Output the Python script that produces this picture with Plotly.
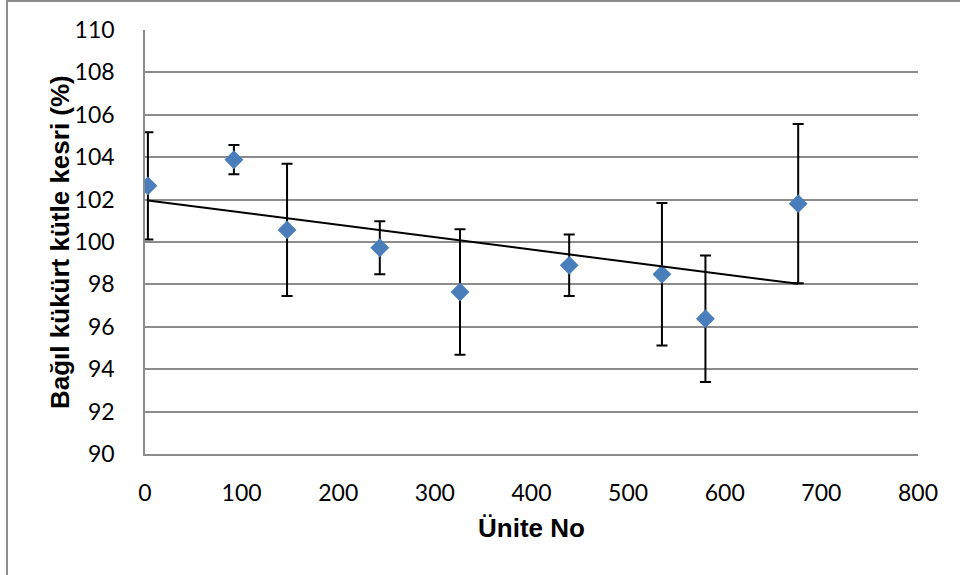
import numpy as np
import plotly.graph_objects as go

# Data
unit_no = [3, 92, 147, 243, 326, 439, 535, 580, 676]
rel_sulfur = [102.65, 103.88, 100.57, 99.73, 97.64, 98.90, 98.48, 96.38, 101.81]
err = [2.53, 0.69, 3.12, 1.25, 2.96, 1.45, 3.36, 2.98, 3.76]
x_ticks = [0, 100, 200, 300, 400, 500, 600, 700, 800]
y_ticks = [90, 92, 94, 96, 98, 100, 102, 104, 106, 108, 110]

# Linear trendline (as in the original chart)
slope, intercept = np.polyfit(unit_no, rel_sulfur, 1)
trend_x = [min(unit_no), max(unit_no)]
trend_y = [slope * v + intercept for v in trend_x]

W, H = 960, 575
L, R, T, B = 145, 918, 30, 454

fig = go.Figure()
fig.add_trace(go.Scatter(
    x=unit_no, y=rel_sulfur, mode="markers",
    marker=dict(symbol="diamond", size=14.5, color="#4A7EBB", line=dict(width=0)),
    error_y=dict(type="data", array=err, visible=True, color="black",
                 thickness=2, width=5.5),
    showlegend=False,
))
fig.add_trace(go.Scatter(
    x=trend_x, y=trend_y, mode="lines",
    line=dict(color="black", width=2), showlegend=False,
))

def px_x(px):
    return (px - L) / (R - L)

def px_y(py):
    return (B - py) / (B - T)

shapes = [
    # outer chart border (top and left visible)
    dict(type="line", xref="paper", yref="paper", x0=px_x(7), x1=px_x(965),
         y0=px_y(1), y1=px_y(1), line=dict(color="#8C8C8C", width=2)),
    dict(type="line", xref="paper", yref="paper", x0=px_x(7), x1=px_x(7),
         y0=px_y(0), y1=px_y(580), line=dict(color="#8C8C8C", width=2)),
]

fig.update_layout(
    width=W, height=H,
    margin=dict(l=L, r=W - R, t=T, b=H - B, pad=0),
    paper_bgcolor="white", plot_bgcolor="white",
    font=dict(family="Lato, Arial, sans-serif", size=23, color="black"),
    shapes=shapes,
    annotations=[
        dict(text="<b>Ünite No</b>", xref="paper", yref="paper",
             x=px_x(531), y=px_y(528), xanchor="center", yanchor="middle",
             showarrow=False,
             font=dict(family="Liberation Sans, Arial, sans-serif", size=26, color="black")),
        dict(text="<b>Bağıl kükürt kütle kesri (%)</b>", xref="paper", yref="paper",
             x=px_x(60), y=px_y(242), xanchor="center", yanchor="middle",
             textangle=-90, showarrow=False,
             font=dict(family="Liberation Sans, Arial, sans-serif", size=26, color="black")),
    ],
)

fig.update_xaxes(
    range=[0, 800], tickvals=x_ticks, ticktext=[str(v) for v in x_ticks],
    showgrid=False, zeroline=False, showline=True, linecolor="#8C8C8C",
    linewidth=1.5, ticks="", ticklabelstandoff=18,
)
fig.update_yaxes(
    range=[90, 110], tickvals=y_ticks, ticktext=[str(v) for v in y_ticks],
    showgrid=True, gridcolor="#8C8C8C", gridwidth=1.5,
    zeroline=False, showline=True, linecolor="#8C8C8C", linewidth=1.5,
    ticks="", ticklabelstandoff=24,
)

fig.write_html("out.html", config={"displayModeBar": False},
               post_script="document.body.style.margin='0px';")
